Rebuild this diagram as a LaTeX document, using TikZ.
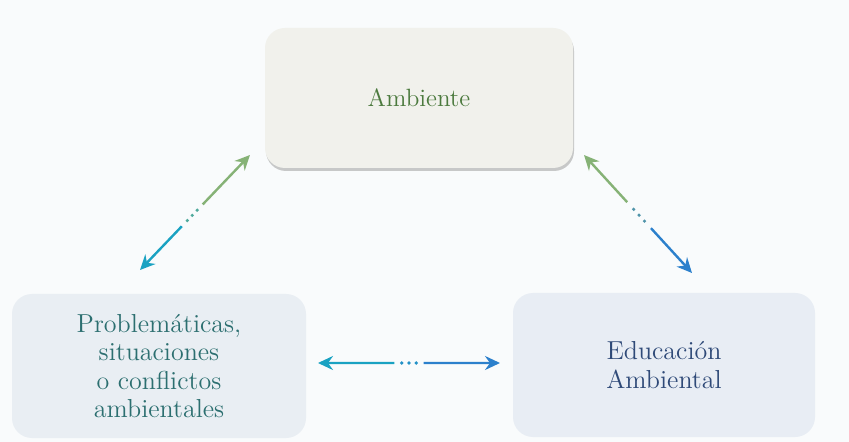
\documentclass[tikz,border=0pt]{standalone}
\usetikzlibrary{arrows.meta,calc,shadows}
\definecolor{bgc}{HTML}{F9FBFC}
\definecolor{ambfill}{HTML}{F1F1EC}
\definecolor{leftfill}{HTML}{E9EEF3}
\definecolor{rightfill}{HTML}{E8EDF4}
\definecolor{agreen}{HTML}{86B276}
\definecolor{ateal}{HTML}{1AA2C2}
\definecolor{ablue}{HTML}{2C80CC}
\definecolor{tgreen}{HTML}{4C7A3E}
\definecolor{tteal}{HTML}{2C6F70}
\definecolor{tblue}{HTML}{2F4A78}
\tikzset{
  box/.style={rounded corners=10pt, minimum height=72pt, align=center,
    font=\fontsize{13}{14.3}\selectfont, inner sep=0pt},
  shad/.style={drop shadow={shadow xshift=0.5pt, shadow yshift=-1.5pt, fill=black!35, opacity=0.6}},
  conn/.style={line width=1.2pt},
  tipl/.style={-{Stealth[length=7.5pt,width=7pt,inset=2.5pt]}},
  dotc/.style={inner sep=0pt, minimum size=1.8pt, circle}
}
\begin{document}
\begin{tikzpicture}[x=0.5pt,y=-0.5pt]
\fill[bgc] (0,0) rectangle (849,442);
\useasboundingbox (0,0) rectangle (849,442);
% boxes
\node[box, shad, fill=ambfill, minimum width=154pt, minimum height=70pt, text=tgreen, font=\fontsize{12.5}{14}\selectfont] (amb) at (419,98) {Ambiente};
\node[box, fill=leftfill, minimum width=147pt, text=tteal] (prob) at (159,366) {Problemáticas,\\situaciones\\o conflictos\\ambientales};
\node[box, fill=rightfill, minimum width=151pt, text=tblue] (edu) at (664,365) {Educación\\Ambiental};
% arrow end points
\coordinate (l1) at (250,155);
\coordinate (l2) at (140,270);
\coordinate (r1) at (584,155);
\coordinate (r2) at (692,273);
\coordinate (h1) at (318,363);
\coordinate (h2) at (500,363);
% left diagonal
\draw[conn, agreen, tipl] ($(l1)!0.43!(l2)$) -- (l1);
\draw[conn, ateal, tipl] ($(l1)!0.62!(l2)$) -- (l2);
\foreach \p in {0.48,0.525,0.57} \node[dotc, fill=agreen!50!ateal] at ($(l1)!\p!(l2)$) {};
% right diagonal
\draw[conn, agreen, tipl] ($(r1)!0.4!(r2)$) -- (r1);
\draw[conn, ablue, tipl] ($(r1)!0.62!(r2)$) -- (r2);
\foreach \p in {0.46,0.51,0.56} \node[dotc, fill=agreen!40!ablue] at ($(r1)!\p!(r2)$) {};
% horizontal
\draw[conn, ateal, tipl] ($(h1)!0.42!(h2)$) -- (h1);
\draw[conn, ablue, tipl] ($(h1)!0.58!(h2)$) -- (h2);
\foreach \p in {0.46,0.5,0.54} \node[dotc, fill=ateal!50!ablue] at ($(h1)!\p!(h2)$) {};
\end{tikzpicture}
\end{document}
